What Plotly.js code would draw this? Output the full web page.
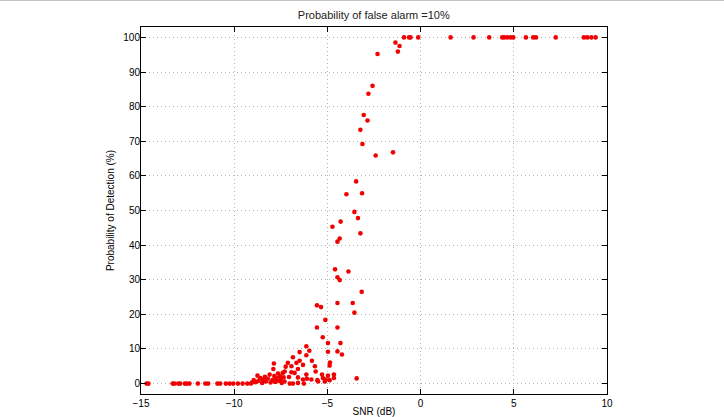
<!DOCTYPE html>
<html>
<head>
<meta charset="utf-8">
<script src="https://cdn.plot.ly/plotly-3.0.1.min.js"></script>
<style>html,body{margin:0;padding:0;background:#fff;}#wrap{position:relative;width:724px;height:417px;}#chart{width:724px;height:417px;}#topline{position:absolute;left:0;top:0;width:724px;height:0;border-top:1px solid #c4c4c4;z-index:5;}</style>
</head>
<body>
<div id="wrap"><div id="chart"></div><div id="topline"></div></div>
<script>
// SNR values (dB) and probability of detection (%)
const snrLow = [-14.7,-14.6,-13.3,-13.2,-13.0,-12.9,-12.65,-12.55,-12.4,-11.95,-11.55,-11.4,-10.9,-10.75,-10.45,-10.25,-10.05,-9.8,-9.55,-9.3,-9.1];
const pdLow  = [0,0,0,0,0,0,0,0,0,0,0,0,0,0,0,0,0,0,0,0,0];

const snrC1 = [-9.05,-8.95,-8.85,-8.75,-8.7,-8.6,-8.5,-8.45,-8.35,-8.3,-8.2,-8.1,-8.05,-7.95,-7.9,-7.87,-7.85,-7.8,-7.75,-7.65,-7.6,-7.55,-7.5,-7.45,-7.4,-7.35,-7.3];
const pdC1  = [0.3,1.0,0.4,2.3,0.8,1.6,0.2,1.2,2.0,0.6,1.4,2.6,0.3,1.0,4.2,5.8,2.2,0.5,1.6,2.9,0.8,2.1,1.3,0.2,3.1,1.8,0.6];

const snrC2 = [-5.56,-5.34,-4.46,-3.64,-3.55,-5.11,-5.56,-4.46,-5.25,-4.97,-4.30,-4.97,-4.46,-4.22,-4.86,-4.88,-3.43,-6.13,-6.49,-5.97,-6.85,-6.49,-6.13,-5.83,-7.12,-6.66,-7.24,-6.93,-6.58,-6.31,-5.67,-7.29,-6.93,-6.76,-6.13,-5.63,-5.29,-4.97,-4.65,-7.06,-6.58,-6.31,-6.10,-5.86,-5.54,-5.24,-5.09,-4.88,-4.65,-7.02,-6.85,-6.58,-6.26,-5.50,-5.14];
const pdC2  = [22.6,22.1,23.3,23.3,20.5,18.4,16.2,16.2,13.4,11.7,11.7,9.2,9.3,8.4,6.1,5.2,1.5,10.8,9.1,9.5,7.6,6.6,8.2,6.6,6.0,6.0,4.9,5.0,4.2,5.4,5.0,3.5,3.3,3.1,2.6,3.5,2.6,2.3,2.6,1.9,1.8,1.2,1.4,1.2,1.0,1.6,1.2,1.0,1.6,0,0,0.2,0,0.6,0.6];

const snrMid = [-4.73,-4.46,-4.34,-4.29,-3.98,-3.55,-3.36,-3.23,-3.14,-3.46,-4.59,-4.46,-4.34,-3.87,-3.16,-3.23,-3.12,-3.05,-2.85,-2.80,-2.58,-2.41,-1.48,-2.31,-1.35,-1.13,-1.22];
const pdMid  = [45.3,41.0,41.9,46.8,54.7,49.6,47.8,43.4,55.0,58.4,33.0,30.7,29.9,32.4,26.5,73.3,69.2,77.6,76.0,83.7,86.0,65.9,66.8,95.2,98.5,97.5,95.9];

const snrTop = [-0.89,-0.62,-0.54,-0.13,1.61,2.84,3.68,4.38,4.48,4.65,4.83,4.97,5.65,6.04,6.19,7.25,8.76,8.94,9.16,9.39];
const pdTop  = [100,100,100,100,100,100,100,100,100,100,100,100,100,100,100,100,100,100,100,100];

const xTicks = [-15,-10,-5,0,5,10];
const yTicks = [0,10,20,30,40,50,60,70,80,90,100];

const snr = [].concat(snrLow, snrC1, snrC2, snrMid, snrTop);
const pd  = [].concat(pdLow, pdC1, pdC2, pdMid, pdTop);

const font = {family: 'Liberation Sans, Arial, Helvetica, sans-serif', size: 10, color: '#000'};

Plotly.newPlot('chart', [{
  x: snr, y: pd, type: 'scatter', mode: 'markers',
  marker: {color: '#f00000', size: 4.6},
  hoverinfo: 'x+y'
}], {
  width: 724, height: 417,
  paper_bgcolor: '#fff', plot_bgcolor: '#fff',
  margin: {l: 141, r: 117, t: 27, b: 23},
  font: font,
  showlegend: false,
  title: {text: 'Probability of false alarm =10%', font: {family: font.family, size: 11, color: '#222'},
          x: 0.5163, xanchor: 'center', y: 0.964, yanchor: 'middle', yref: 'container'},
  xaxis: {
    range: [-15, 10], tickvals: xTicks, ticks: 'inside', ticklen: 5, tickcolor: '#000',
    showline: true, linecolor: '#000', linewidth: 1, mirror: 'ticks',
    showgrid: true, gridcolor: '#b4b4b4', griddash: '1px,3px', gridwidth: 1, zeroline: false,
    tickfont: font, automargin: false,
    title: {text: 'SNR (dB)', font: font, standoff: 10}
  },
  yaxis: {
    range: [-3, 103], tickvals: yTicks, ticks: 'inside', ticklen: 5, tickcolor: '#000',
    showline: true, linecolor: '#000', linewidth: 1, mirror: 'ticks',
    showgrid: true, gridcolor: '#b4b4b4', griddash: '1px,3px', gridwidth: 1, zeroline: false,
    tickfont: font, automargin: false, ticklabelstandoff: -2,
    title: {text: 'Probability of Detection (%)', font: font, standoff: 6}
  }
}, {displayModeBar: false, staticPlot: true});
</script>
</body>
</html>
